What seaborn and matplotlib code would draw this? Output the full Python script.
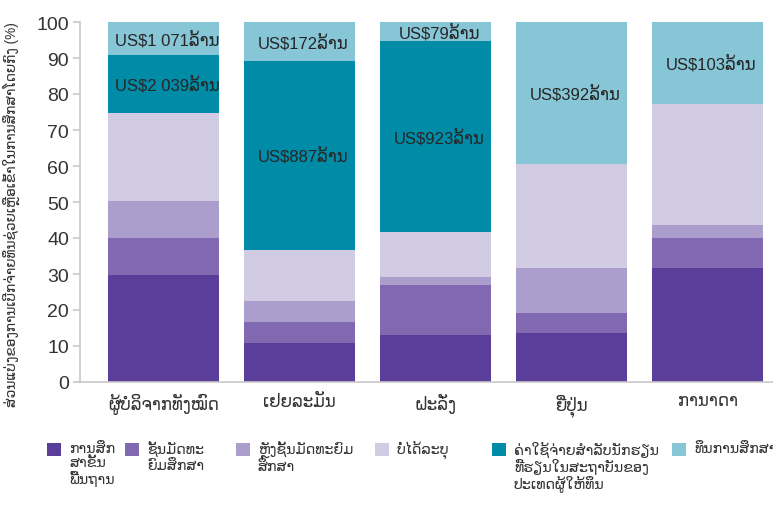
import numpy as np
import matplotlib
matplotlib.use("Agg")
import matplotlib.pyplot as plt
import seaborn as sns
from matplotlib.patches import Rectangle

donors = ["ຜູ້ບໍລິຈາກທັງໝົດ", "ເຢຍລະມັນ", "ຝະລັ່ງ", "ຍີ່ປຸ່ນ", "ການາດາ"]

# shares in %, bottom -> top
basic = [29.7, 10.8, 13.1, 13.6, 31.7]
secondary = [10.3, 5.9, 13.8, 5.6, 8.3]
post_secondary = [10.3, 5.8, 2.4, 12.5, 3.6]
unspecified = [24.4, 14.3, 12.5, 28.9, 33.6]
student_costs = [16.1, 52.4, 52.9, 0.0, 0.0]
scholarships = [9.2, 10.8, 5.3, 39.4, 22.8]

series = [basic, secondary, post_secondary, unspecified, student_costs, scholarships]
legend_labels = [
    "ການສຶກ\nສາຂັ້ນ\nພື້ນຖານ",
    "ຊັ້ນມັດທະ\nຍົມສຶກສາ",
    "ຫຼັງຊັ້ນມັດທະຍົມ\nສຶກສາ",
    "ບໍ່ໄດ້ລະບຸ",
    "ຄ່າໃຊ້ຈ່າຍສໍາລັບນັກຮຽນ\nທີ່ຮຽນໃນສະຖາບັນຂອງ\nປະເທດຜູ້ໃຫ້ທຶນ",
    "ທຶນການສຶກສາ",
]
colors = ["#5a3e99", "#8169b1", "#ab9dcc", "#d1cce4", "#008ca7", "#86c6d7"]

# amounts written on the two top segments
cost_labels = ["US$2 039ລ້ານ", "US$887ລ້ານ", "US$923ລ້ານ", "", ""]
schol_labels = ["US$1 071ລ້ານ", "US$172ລ້ານ", "US$79ລ້ານ", "US$392ລ້ານ", "US$103ລ້ານ"]

ylabel = "ສ່ວນແບ່ງຂອງການເບີກຈ່າຍທຶນຊ່ວຍເຫຼືອເຂົ້າໃນການສຶກສາໂດຍກົງ (%)"

sns.set_style("white")
plt.rcParams["font.family"] = ["Liberation Sans", "DejaVu Sans"]

W, H = 773, 510
fig = plt.figure(figsize=(W / 100, H / 100), dpi=100)
ax = fig.add_axes([80 / W, 1 - 383 / H, 1 - 80 / W, 360 / H])

bw = 0.816
bottom = np.zeros(len(donors))
for vals, col in zip(series, colors):
    sns.barplot(x=donors, y=vals, bottom=bottom, color=col, width=bw,
                errorbar=None, saturation=1, ax=ax, linewidth=0)
    bottom = bottom + np.array(vals)

# value labels
cum = np.cumsum(np.array(series), axis=0)
for i in range(len(donors)):
    for lab, k in ((cost_labels[i], 4), (schol_labels[i], 5)):
        if not lab:
            continue
        mid = cum[k - 1][i] + series[k][i] / 2
        ax.annotate(lab, xy=(i, mid), xytext=(2.5, 0), textcoords="offset points",
                    ha="center", va="center", fontsize=12, color="#262626")

ax.set_xlim(-0.614, 4.48)
ax.set_ylim(0, 100)
ax.set_yticks(range(0, 101, 10))
sns.despine(ax=ax)
for s in ("left", "bottom"):
    ax.spines[s].set_color("#c8c8c8")
    ax.spines[s].set_linewidth(1.2)
ax.tick_params(axis="y", length=5, width=1.2, color="#c8c8c8", labelsize=14,
               labelcolor="#333333", pad=3, left=True)
ax.tick_params(axis="x", length=0, labelsize=12, labelcolor="#333333", pad=8)
ax.set_xlabel("")
ax.set_ylabel(ylabel, fontsize=9.8, color="#333333")
ax.yaxis.set_label_coords(-0.087, 0.467)

# legend drawn by hand so the swatch sits on the first text line
handle_x = [47, 125, 236, 375, 492, 672]
for hx, lab, col in zip(handle_x, legend_labels, colors):
    fig.patches.append(Rectangle((hx / W, 1 - 457 / H), 14 / W, 13 / H,
                                 transform=fig.transFigure, color=col, lw=0))
    fig.text((hx + 22) / W, 1 - 442 / H, lab, fontsize=10.3, color="#333333",
             va="top", ha="left", linespacing=1.05)

fig.savefig("out.png", dpi=100)
